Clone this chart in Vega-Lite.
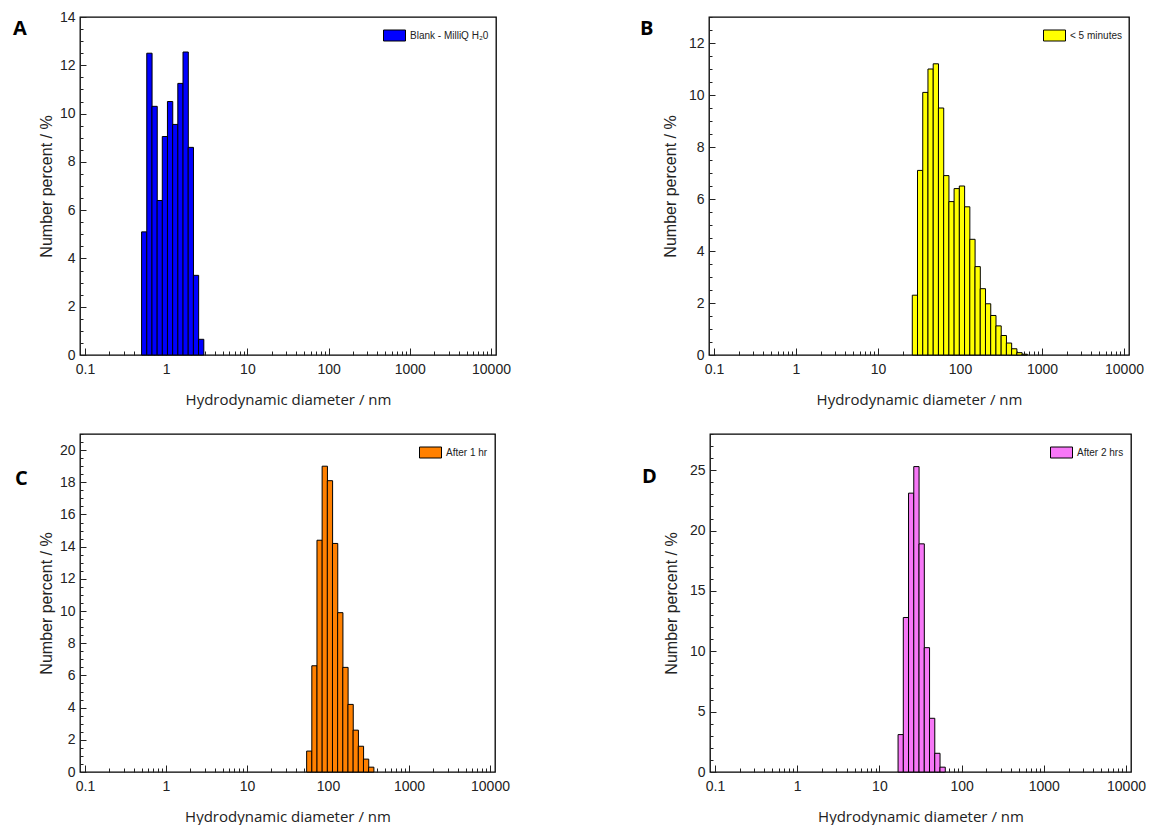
{
  "$schema": "https://vega.github.io/schema/vega-lite/v6.json",
  "background": "white",
  "padding": {"left": 12, "top": 9, "right": 0, "bottom": 0},
  "config": {
    "view": {"stroke": "black", "strokeWidth": 1.3},
    "axis": {"labelFont": "Liberation Sans", "labelFontSize": 14, "labelColor": "#222", "titleFont": "Liberation Sans", "titleFontWeight": "normal", "titleColor": "#222", "domain": false, "grid": false, "tickColor": "#222", "tickWidth": 1, "labelOverlap": false},
    "legend": {"orient": "top-right", "offset": 7, "title": null, "padding": 0, "symbolType": "M-1,-0.5H1V0.5H-1Z", "symbolSize": 484, "symbolStrokeColor": "black", "symbolStrokeWidth": 1, "symbolOpacity": 1, "labelFont": "Liberation Sans", "labelFontSize": 10, "labelColor": "#222", "labelOffset": 4},
    "title": {"anchor": "start", "frame": "group", "offset": 0, "fontSize": 20, "fontWeight": "bold", "font": "Open Sans", "color": "black", "baseline": "alphabetic"}
  },
  "datasets": {
    "panelA": [
      {"diameter_nm": 0.5365, "percent": 5.1, "sample": "Blank - MilliQ H₂0"},
      {"diameter_nm": 0.6213, "percent": 12.5, "sample": "Blank - MilliQ H₂0"},
      {"diameter_nm": 0.7195, "percent": 10.3, "sample": "Blank - MilliQ H₂0"},
      {"diameter_nm": 0.8332, "percent": 6.4, "sample": "Blank - MilliQ H₂0"},
      {"diameter_nm": 0.9649, "percent": 9.05, "sample": "Blank - MilliQ H₂0"},
      {"diameter_nm": 1.117, "percent": 10.5, "sample": "Blank - MilliQ H₂0"},
      {"diameter_nm": 1.294, "percent": 9.55, "sample": "Blank - MilliQ H₂0"},
      {"diameter_nm": 1.499, "percent": 11.25, "sample": "Blank - MilliQ H₂0"},
      {"diameter_nm": 1.736, "percent": 12.55, "sample": "Blank - MilliQ H₂0"},
      {"diameter_nm": 2.01, "percent": 8.6, "sample": "Blank - MilliQ H₂0"},
      {"diameter_nm": 2.328, "percent": 3.3, "sample": "Blank - MilliQ H₂0"},
      {"diameter_nm": 2.696, "percent": 0.65, "sample": "Blank - MilliQ H₂0"}
    ],
    "panelB": [
      {"diameter_nm": 28.21, "percent": 2.3, "sample": "< 5 minutes"},
      {"diameter_nm": 32.67, "percent": 7.1, "sample": "< 5 minutes"},
      {"diameter_nm": 37.84, "percent": 10.1, "sample": "< 5 minutes"},
      {"diameter_nm": 43.82, "percent": 11.0, "sample": "< 5 minutes"},
      {"diameter_nm": 50.75, "percent": 11.2, "sample": "< 5 minutes"},
      {"diameter_nm": 58.77, "percent": 9.5, "sample": "< 5 minutes"},
      {"diameter_nm": 68.06, "percent": 6.9, "sample": "< 5 minutes"},
      {"diameter_nm": 78.82, "percent": 5.9, "sample": "< 5 minutes"},
      {"diameter_nm": 91.28, "percent": 6.4, "sample": "< 5 minutes"},
      {"diameter_nm": 105.7, "percent": 6.5, "sample": "< 5 minutes"},
      {"diameter_nm": 122.4, "percent": 5.7, "sample": "< 5 minutes"},
      {"diameter_nm": 141.8, "percent": 4.45, "sample": "< 5 minutes"},
      {"diameter_nm": 164.2, "percent": 3.4, "sample": "< 5 minutes"},
      {"diameter_nm": 190.1, "percent": 2.55, "sample": "< 5 minutes"},
      {"diameter_nm": 220.2, "percent": 1.97, "sample": "< 5 minutes"},
      {"diameter_nm": 255.0, "percent": 1.52, "sample": "< 5 minutes"},
      {"diameter_nm": 295.3, "percent": 1.12, "sample": "< 5 minutes"},
      {"diameter_nm": 342.0, "percent": 0.75, "sample": "< 5 minutes"},
      {"diameter_nm": 396.1, "percent": 0.46, "sample": "< 5 minutes"},
      {"diameter_nm": 458.7, "percent": 0.24, "sample": "< 5 minutes"},
      {"diameter_nm": 531.2, "percent": 0.09, "sample": "< 5 minutes"},
      {"diameter_nm": 615.1, "percent": 0.03, "sample": "< 5 minutes"}
    ],
    "panelC": [
      {"diameter_nm": 58.77, "percent": 1.3, "sample": "After 1 hr"},
      {"diameter_nm": 68.06, "percent": 6.6, "sample": "After 1 hr"},
      {"diameter_nm": 78.82, "percent": 14.4, "sample": "After 1 hr"},
      {"diameter_nm": 91.28, "percent": 19.0, "sample": "After 1 hr"},
      {"diameter_nm": 105.7, "percent": 18.1, "sample": "After 1 hr"},
      {"diameter_nm": 122.4, "percent": 14.2, "sample": "After 1 hr"},
      {"diameter_nm": 141.8, "percent": 9.9, "sample": "After 1 hr"},
      {"diameter_nm": 164.2, "percent": 6.5, "sample": "After 1 hr"},
      {"diameter_nm": 190.1, "percent": 4.2, "sample": "After 1 hr"},
      {"diameter_nm": 220.2, "percent": 2.6, "sample": "After 1 hr"},
      {"diameter_nm": 255.0, "percent": 1.6, "sample": "After 1 hr"},
      {"diameter_nm": 295.3, "percent": 0.8, "sample": "After 1 hr"},
      {"diameter_nm": 342.0, "percent": 0.3, "sample": "After 1 hr"}
    ],
    "panelD": [
      {"diameter_nm": 18.17, "percent": 3.1, "sample": "After 2 hrs"},
      {"diameter_nm": 21.04, "percent": 12.8, "sample": "After 2 hrs"},
      {"diameter_nm": 24.36, "percent": 23.1, "sample": "After 2 hrs"},
      {"diameter_nm": 28.21, "percent": 25.3, "sample": "After 2 hrs"},
      {"diameter_nm": 32.67, "percent": 18.9, "sample": "After 2 hrs"},
      {"diameter_nm": 37.84, "percent": 10.3, "sample": "After 2 hrs"},
      {"diameter_nm": 43.82, "percent": 4.45, "sample": "After 2 hrs"},
      {"diameter_nm": 50.75, "percent": 1.55, "sample": "After 2 hrs"},
      {"diameter_nm": 58.77, "percent": 0.4, "sample": "After 2 hrs"}
    ]
  },
  "spacing": 18,
  "resolve": {"scale": {"fill": "independent", "x": "independent", "y": "independent"}, "legend": {"fill": "independent"}},
  "vconcat": [
    {
      "hconcat": [
        {
          "width": 416, "height": 338,
          "data": {"name": "panelA"},
          "title": {"text": "A", "dx": -67, "dy": 33},
          "mark": {"type": "bar", "orient": "vertical", "width": 5.3, "stroke": "black", "strokeWidth": 1, "fillOpacity": 1},
          "encoding": {
            "x": {"field": "diameter_nm", "type": "quantitative", "scale": {"type": "log", "domain": [0.1, 10000], "nice": false},
              "axis": {"values": [0.1,0.2,0.3,0.4,0.5,0.6,0.7,0.8,0.9,1,2,3,4,5,6,7,8,9,10,20,30,40,50,60,70,80,90,100,200,300,400,500,600,700,800,900,1000,2000,3000,4000,5000,6000,7000,8000,9000,10000], "format": "~g", "labelExpr": "indexof([0.1,1,10,100,1000,10000], datum.value) >= 0 ? datum.label : ''", "tickSize": {"condition": {"test": "indexof([0.1,1,10,100,1000,10000], datum.value) >= 0", "value": -7}, "value": -4}, "labelPadding": 14, "labelFlush": false, "title": "Hydrodynamic diameter / nm", "titleFont": "Open Sans", "titleFontSize": 15, "titlePadding": 13}},
            "y": {"field": "percent", "type": "quantitative", "scale": {"domain": [0, 14], "nice": false},
              "axis": {"values": [0,0.5,1,1.5,2,2.5,3,3.5,4,4.5,5,5.5,6,6.5,7,7.5,8,8.5,9,9.5,10,10.5,11,11.5,12,12.5,13,13.5,14], "format": "~g", "labelExpr": "datum.value % 2 == 0 ? datum.label : ''", "tickSize": {"condition": {"test": "datum.value % 2 == 0", "value": -6}, "value": -3}, "labelPadding": 11, "title": "Number percent / %", "titleFontSize": 16, "titlePadding": 5}},
            "fill": {"field": "sample", "type": "nominal", "scale": {"range": ["#0000FF"]}}
          }
        },
        {
          "width": 420, "height": 338,
          "data": {"name": "panelB"},
          "title": {"text": "B", "dx": -69, "dy": 33},
          "mark": {"type": "bar", "orient": "vertical", "width": 5.3, "stroke": "black", "strokeWidth": 1, "fillOpacity": 1},
          "encoding": {
            "x": {"field": "diameter_nm", "type": "quantitative", "scale": {"type": "log", "domain": [0.1, 10000], "nice": false},
              "axis": {"values": [0.1,0.2,0.3,0.4,0.5,0.6,0.7,0.8,0.9,1,2,3,4,5,6,7,8,9,10,20,30,40,50,60,70,80,90,100,200,300,400,500,600,700,800,900,1000,2000,3000,4000,5000,6000,7000,8000,9000,10000], "format": "~g", "labelExpr": "indexof([0.1,1,10,100,1000,10000], datum.value) >= 0 ? datum.label : ''", "tickSize": {"condition": {"test": "indexof([0.1,1,10,100,1000,10000], datum.value) >= 0", "value": -7}, "value": -4}, "labelPadding": 14, "labelFlush": false, "title": "Hydrodynamic diameter / nm", "titleFont": "Open Sans", "titleFontSize": 15, "titlePadding": 13}},
            "y": {"field": "percent", "type": "quantitative", "scale": {"domain": [0, 13], "nice": false},
              "axis": {"values": [0,0.5,1,1.5,2,2.5,3,3.5,4,4.5,5,5.5,6,6.5,7,7.5,8,8.5,9,9.5,10,10.5,11,11.5,12,12.5,13], "format": "~g", "labelExpr": "datum.value % 2 == 0 ? datum.label : ''", "tickSize": {"condition": {"test": "datum.value % 2 == 0", "value": -6}, "value": -3}, "labelPadding": 11, "title": "Number percent / %", "titleFontSize": 16, "titlePadding": 10}},
            "fill": {"field": "sample", "type": "nominal", "scale": {"range": ["#FFFF00"]}}
          }
        }
      ],
      "spacing": 213,
      "bounds": "flush",
      "resolve": {"scale": {"fill": "independent"}, "legend": {"fill": "independent"}}
    },
    {
      "hconcat": [
        {
          "width": 415, "height": 338,
          "data": {"name": "panelC"},
          "title": {"text": "C", "dx": -65, "dy": 66},
          "mark": {"type": "bar", "orient": "vertical", "width": 5.3, "stroke": "black", "strokeWidth": 1, "fillOpacity": 1},
          "encoding": {
            "x": {"field": "diameter_nm", "type": "quantitative", "scale": {"type": "log", "domain": [0.1, 10000], "nice": false},
              "axis": {"values": [0.1,0.2,0.3,0.4,0.5,0.6,0.7,0.8,0.9,1,2,3,4,5,6,7,8,9,10,20,30,40,50,60,70,80,90,100,200,300,400,500,600,700,800,900,1000,2000,3000,4000,5000,6000,7000,8000,9000,10000], "format": "~g", "labelExpr": "indexof([0.1,1,10,100,1000,10000], datum.value) >= 0 ? datum.label : ''", "tickSize": {"condition": {"test": "indexof([0.1,1,10,100,1000,10000], datum.value) >= 0", "value": -7}, "value": -4}, "labelPadding": 14, "labelFlush": false, "title": "Hydrodynamic diameter / nm", "titleFont": "Open Sans", "titleFontSize": 15, "titlePadding": 13}},
            "y": {"field": "percent", "type": "quantitative", "scale": {"domain": [0, 21], "nice": false},
              "axis": {"values": [0,0.5,1,1.5,2,2.5,3,3.5,4,4.5,5,5.5,6,6.5,7,7.5,8,8.5,9,9.5,10,10.5,11,11.5,12,12.5,13,13.5,14,14.5,15,15.5,16,16.5,17,17.5,18,18.5,19,19.5,20,20.5,21], "format": "~g", "labelExpr": "datum.value % 2 == 0 ? datum.label : ''", "tickSize": {"condition": {"test": "datum.value % 2 == 0", "value": -6}, "value": -3}, "labelPadding": 11, "title": "Number percent / %", "titleFontSize": 16, "titlePadding": 5}},
            "fill": {"field": "sample", "type": "nominal", "scale": {"range": ["#FF8000"]}}
          }
        },
        {
          "width": 421, "height": 338,
          "data": {"name": "panelD"},
          "title": {"text": "D", "dx": -68, "dy": 64},
          "mark": {"type": "bar", "orient": "vertical", "width": 5.3, "stroke": "black", "strokeWidth": 1, "fillOpacity": 1},
          "encoding": {
            "x": {"field": "diameter_nm", "type": "quantitative", "scale": {"type": "log", "domain": [0.1, 10000], "nice": false},
              "axis": {"values": [0.1,0.2,0.3,0.4,0.5,0.6,0.7,0.8,0.9,1,2,3,4,5,6,7,8,9,10,20,30,40,50,60,70,80,90,100,200,300,400,500,600,700,800,900,1000,2000,3000,4000,5000,6000,7000,8000,9000,10000], "format": "~g", "labelExpr": "indexof([0.1,1,10,100,1000,10000], datum.value) >= 0 ? datum.label : ''", "tickSize": {"condition": {"test": "indexof([0.1,1,10,100,1000,10000], datum.value) >= 0", "value": -7}, "value": -4}, "labelPadding": 14, "labelFlush": false, "title": "Hydrodynamic diameter / nm", "titleFont": "Open Sans", "titleFontSize": 15, "titlePadding": 13}},
            "y": {"field": "percent", "type": "quantitative", "scale": {"domain": [0, 28], "nice": false},
              "axis": {"values": [0,1,2,3,4,5,6,7,8,9,10,11,12,13,14,15,16,17,18,19,20,21,22,23,24,25,26,27,28], "format": "~g", "labelExpr": "datum.value % 5 == 0 ? datum.label : ''", "tickSize": {"condition": {"test": "datum.value % 5 == 0", "value": -6}, "value": -3}, "labelPadding": 11, "title": "Number percent / %", "titleFontSize": 16, "titlePadding": 10}},
            "fill": {"field": "sample", "type": "nominal", "scale": {"range": ["#F777F7"]}}
          }
        }
      ],
      "spacing": 215,
      "bounds": "flush",
      "resolve": {"scale": {"fill": "independent"}, "legend": {"fill": "independent"}}
    }
  ]
}
